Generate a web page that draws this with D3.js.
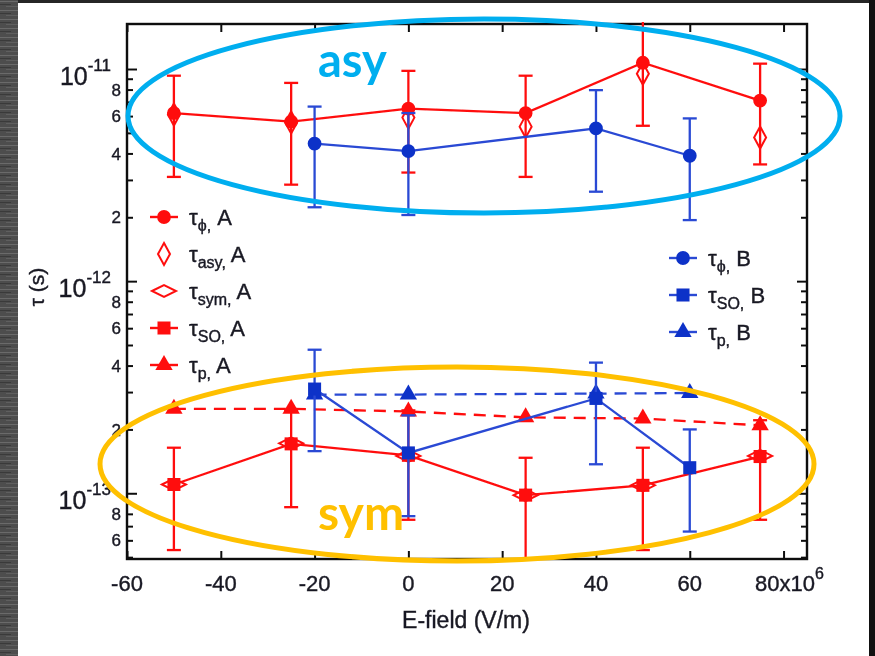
<!DOCTYPE html>
<html>
<head>
<meta charset="utf-8">
<script src="https://cdn.jsdelivr.net/npm/d3@7"></script>
<style>
  html, body { margin: 0; padding: 0; background: #222; }
  svg { display: block; }
</style>
</head>
<body>
<svg id="chart" width="875" height="656"></svg>
<script>
// ---- data: relaxation times vs electric field ----
const xA = [-50, -25, 0, 25, 50, 75];           // E-field (×10^6 V/m), sample A
const xB = [-20, 0, 40, 60];                     // E-field (×10^6 V/m), sample B

const tauPhiA    = [6.2e-12, 5.65e-12, 6.5e-12, 6.2e-12, 1.07e-11, 7.1e-12];
const tauPhiA_hi = [9.3e-12, 8.6e-12, 9.8e-12, 9.3e-12, 1.75e-11, 1.06e-11];
const tauPhiA_lo = [3.1e-12, 2.85e-12, 3.25e-12, 3.1e-12, 5.4e-12, 3.55e-12];
const tauAsyA    = [6.1e-12, 5.6e-12, 5.9e-12, 5.35e-12, 9.5e-12, 4.75e-12];
const tauSymA    = [1.1e-13, 1.72e-13, 1.5e-13, 9.8e-14, 1.09e-13, 1.5e-13];
const tauSoA     = [1.1e-13, 1.71e-13, 1.51e-13, 9.8e-14, 1.09e-13, 1.49e-13];
const tauSoA_hi  = [1.64e-13, 2.46e-13, 2.46e-13, 1.47e-13, 1.64e-13, 2.21e-13];
const tauSoA_lo  = [5.4e-14, 8.6e-14, 7.5e-14, 4.0e-14, 5.4e-14, 7.5e-14];
const tauPA      = [2.5e-13, 2.5e-13, 2.43e-13, 2.28e-13, 2.25e-13, 2.09e-13];

const tauPhiB    = [4.45e-12, 4.1e-12, 5.25e-12, 3.9e-12];
const tauPhiB_hi = [6.65e-12, 6.2e-12, 7.95e-12, 5.85e-12];
const tauPhiB_lo = [2.23e-12, 2.05e-12, 2.64e-12, 1.94e-12];
const tauSoB     = [3.1e-13, 1.55e-13, 2.8e-13, 1.32e-13];
const tauSoB_hi  = [4.75e-13, 2.33e-13, 4.13e-13, 2.0e-13];
const tauSoB_lo  = [1.58e-13, 7.8e-14, 1.37e-13, 6.6e-14];
const tauPB      = [2.92e-13, 2.92e-13, 2.95e-13, 2.97e-13];

const xTicks = [-60, -40, -20, 0, 20, 40, 60, 80];
const yDecades = [-14, -13, -12, -11];
const yLabeledMinors = [2, 4, 6, 8];

// ---- layout ----
const W = 875, H = 656;
const plot = { left: 127, right: 807, top: 24, bottom: 559 };
const RED = "#ff1010", BLUE = "#0f33c8", BLUE_LINE = "#2a4ad4";
const INK = "#1a1a24";
const FONT = "'Liberation Sans', Arial, Helvetica, sans-serif";

const svg = d3.select("#chart");
const defs = svg.append("defs");

// light softening filter for the plotted figure
defs.append("filter").attr("id", "soft").attr("x", "-5%").attr("y", "-5%").attr("width", "110%").attr("height", "110%")
  .append("feGaussianBlur").attr("stdDeviation", 0.5);

defs.append("clipPath").attr("id", "plotclip").append("rect")
  .attr("x", plot.left).attr("y", plot.top - 2)
  .attr("width", plot.right - plot.left).attr("height", plot.bottom - plot.top + 2);

// textured strip pattern for the slide background
const pat = defs.append("pattern").attr("id", "stone").attr("patternUnits", "userSpaceOnUse")
  .attr("width", 18).attr("height", 9);
pat.append("rect").attr("width", 18).attr("height", 9).attr("fill", "#4d4d4d");
pat.append("rect").attr("y", 1).attr("width", 18).attr("height", 1).attr("fill", "#6a6a6a");
pat.append("rect").attr("y", 4).attr("width", 11).attr("height", 1).attr("fill", "#3a3a3a");
pat.append("rect").attr("x", 6).attr("y", 6).attr("width", 12).attr("height", 1).attr("fill", "#5f5f5f");

svg.append("rect").attr("width", W).attr("height", H).attr("fill", "#262626");
svg.append("rect").attr("x", 0).attr("y", 0).attr("width", 18).attr("height", H).attr("fill", "url(#stone)");
svg.append("rect").attr("x", 869).attr("y", 0).attr("width", 6).attr("height", H).attr("fill", "#111");
svg.append("rect").attr("x", 18).attr("y", 3).attr("width", 851).attr("height", H - 3).attr("fill", "#fff");

// ---- scales ----
const x = d3.scaleLinear().domain([-60, 85]).range([plot.left, plot.right]);
const y = d3.scaleLog().domain([4.9e-14, 1.63e-11]).range([plot.bottom, plot.top]);

const fig = svg.append("g").attr("filter", "url(#soft)");

// ---- axes (ticks point inward, mirrored on all sides) ----
const axB = d3.axisBottom(x).tickValues(xTicks).tickSizeInner(-8).tickSizeOuter(0).tickFormat("");
const axT = d3.axisTop(x).tickValues(xTicks).tickSizeInner(-8).tickSizeOuter(0).tickFormat("");
fig.append("g").attr("transform", `translate(0,${plot.bottom})`).call(axB);
fig.append("g").attr("transform", `translate(0,${plot.top})`).call(axT);

const yTickVals = [];
yDecades.forEach(d => {
  for (let k = 1; k <= 9; k++) {
    const v = k * Math.pow(10, d);
    if (v >= y.domain()[0] && v <= y.domain()[1]) yTickVals.push({ v, k, d });
  }
});
const majors = yTickVals.filter(t => t.k === 1).map(t => t.v);
const minors = yTickVals.filter(t => t.k !== 1).map(t => t.v);
[[d3.axisLeft, plot.left], [d3.axisRight, plot.right]].forEach(([ax, px]) => {
  fig.append("g").attr("transform", `translate(${px},0)`)
    .call(ax(y).tickValues(majors).tickSizeInner(-10).tickSizeOuter(0).tickFormat(""));
  fig.append("g").attr("transform", `translate(${px},0)`)
    .call(ax(y).tickValues(minors).tickSizeInner(-6).tickSizeOuter(0).tickFormat(""));
});
fig.selectAll(".domain").remove();
fig.selectAll(".tick line").attr("stroke", "#111").attr("stroke-width", 2);

// frame
fig.append("rect")
  .attr("x", plot.left).attr("y", plot.top)
  .attr("width", plot.right - plot.left).attr("height", plot.bottom - plot.top)
  .attr("fill", "none").attr("stroke", "#111").attr("stroke-width", 2.4);

// shared text style (slightly heavy strokes, like a printed figure)
function ink(sel) {
  return sel.attr("font-family", FONT).attr("fill", INK)
    .attr("stroke", INK).attr("stroke-width", 0.4);
}

// x tick labels
const xl = ink(fig.append("g")).attr("font-size", 22).attr("text-anchor", "middle");
xTicks.forEach(t => {
  const tx = xl.append("text").attr("x", x(t) + (t === 80 ? 6 : 0)).attr("y", 591);
  if (t === 80) {
    tx.append("tspan").text("80x10");
    tx.append("tspan").attr("font-size", 16).attr("dy", -12).text("6");
  } else {
    tx.text(t);
  }
});

// y tick labels
const yl = ink(fig.append("g")).attr("text-anchor", "end");
yTickVals.forEach(t => {
  if (t.k === 1) {
    const tx = yl.append("text").attr("x", 111).attr("y", y(t.v) + 16).attr("font-size", 25);
    tx.append("tspan").text("10");
    tx.append("tspan").attr("font-size", 17).attr("dy", -14).text(String(t.d));
  } else if (yLabeledMinors.includes(t.k)) {
    yl.append("text").attr("x", 121).attr("y", y(t.v)).attr("dy", "0.36em")
      .attr("font-size", 17).text(t.k);
  }
});

// axis titles
ink(fig.append("text")).attr("x", 466).attr("y", 628).attr("text-anchor", "middle")
  .attr("font-size", 23).text("E-field (V/m)");
ink(fig.append("text")).attr("transform", "translate(44,287) rotate(-90)").attr("text-anchor", "middle")
  .attr("font-size", 21).text("τ (s)");

// ---- marker helpers ----
const sym = {
  circle: d3.symbol(d3.symbolCircle, 150),
  square: d3.symbol(d3.symbolSquare, 170),
  triangle: d3.symbol(d3.symbolTriangle, 130)
};
const diamondV = "M0,-11L6,0L0,11L-6,0Z";
const diamondH = "M-12,0L0,-6L12,0L0,6Z";

function drawMarker(g, cx, cy, kind, color) {
  const t = `translate(${cx},${cy})`;
  if (kind === "diamondV" || kind === "diamondH") {
    g.append("path").attr("d", kind === "diamondV" ? diamondV : diamondH).attr("transform", t)
      .attr("fill", "none").attr("stroke", color).attr("stroke-width", 2);
  } else {
    g.append("path").attr("d", sym[kind]()).attr("transform", t).attr("fill", color);
  }
}

const data = fig.append("g").attr("clip-path", "url(#plotclip)");

function series(xs, vals, opts) {
  const g = data.append("g");
  const pts = xs.map((xv, i) => [x(xv), y(vals[i])]);
  const c = opts.lineColor || opts.color;
  if (opts.line) {
    g.append("path").attr("d", d3.line()(pts)).attr("fill", "none")
      .attr("stroke", c).attr("stroke-width", 2.3)
      .attr("stroke-dasharray", opts.dash || null);
  }
  if (opts.hi) {
    xs.forEach((xv, i) => {
      const cx = x(xv), y1 = y(opts.hi[i]), y2 = y(opts.lo[i]);
      g.append("line").attr("x1", cx).attr("x2", cx).attr("y1", y1).attr("y2", y2)
        .attr("stroke", c).attr("stroke-width", 2.3);
      [y1, y2].forEach(yy => g.append("line").attr("x1", cx - 7).attr("x2", cx + 7)
        .attr("y1", yy).attr("y2", yy).attr("stroke", c).attr("stroke-width", 2.3));
    });
  }
  pts.forEach(([cx, cy]) => drawMarker(g, cx, cy, opts.marker, opts.color));
}

// sample A (red)
series(xA, tauPA, { color: RED, marker: "triangle", line: true, dash: "12,8" });
series(xA, tauAsyA, { color: RED, marker: "diamondV" });
series(xA, tauSymA, { color: RED, marker: "diamondH" });
series(xA, tauSoA, { color: RED, marker: "square", line: true, hi: tauSoA_hi, lo: tauSoA_lo });
series(xA, tauPhiA, { color: RED, marker: "circle", line: true, hi: tauPhiA_hi, lo: tauPhiA_lo });
// sample B (blue)
series(xB, tauPB, { color: BLUE, lineColor: BLUE_LINE, marker: "triangle", line: true, dash: "12,8" });
series(xB, tauSoB, { color: BLUE, lineColor: BLUE_LINE, marker: "square", line: true, hi: tauSoB_hi, lo: tauSoB_lo });
series(xB, tauPhiB, { color: BLUE, lineColor: BLUE_LINE, marker: "circle", line: true, hi: tauPhiB_hi, lo: tauPhiB_lo });

// ---- legends ----
function legendRow(g, lx, ly, kind, color, label, sub, lineColor, withLine) {
  if (withLine) {
    g.append("line").attr("x1", lx - 14).attr("x2", lx + 14).attr("y1", ly).attr("y2", ly)
      .attr("stroke", lineColor || color).attr("stroke-width", 2.4);
  }
  drawMarker(g, lx, ly, kind, color);
  const t = ink(g.append("text")).attr("x", lx + 25).attr("y", ly + 8).attr("font-size", 22);
  t.append("tspan").text("τ");
  t.append("tspan").attr("font-size", 16).attr("dy", 6).text(sub + ",");
  t.append("tspan").attr("dy", -6).text(" " + label);
}
const legA = fig.append("g");
legendRow(legA, 164, 217, "circle", RED, "A", "ϕ", null, true);
legendRow(legA, 164, 254, "diamondV", RED, "A", "asy", null, false);
legendRow(legA, 164, 291, "diamondH", RED, "A", "sym", null, false);
legendRow(legA, 164, 328, "square", RED, "A", "SO", null, true);
legendRow(legA, 164, 365, "triangle", RED, "A", "p", null, true);

const legB = fig.append("g");
legendRow(legB, 683, 258, "circle", BLUE, "B", "ϕ", BLUE_LINE, true);
legendRow(legB, 683, 295, "square", BLUE, "B", "SO", BLUE_LINE, true);
legendRow(legB, 683, 332, "triangle", BLUE, "B", "p", BLUE_LINE, true);

// ---- highlight ellipses and region tags ----
svg.append("ellipse").attr("cx", 484).attr("cy", 116).attr("rx", 356).attr("ry", 97)
  .attr("fill", "none").attr("stroke", "#00aeef").attr("stroke-width", 5);
svg.append("ellipse").attr("cx", 457).attr("cy", 464).attr("rx", 357).attr("ry", 97)
  .attr("fill", "none").attr("stroke", "#ffc000").attr("stroke-width", 5);
svg.append("text").attr("x", 318).attr("y", 77).attr("font-family", "Lato, 'Open Sans', sans-serif")
  .attr("font-weight", 700).attr("font-size", 47).attr("fill", "#00aeef").text("asy");
svg.append("text").attr("x", 318).attr("y", 530).attr("font-family", "Lato, 'Open Sans', sans-serif")
  .attr("font-weight", 700).attr("font-size", 48).attr("fill", "#ffc000").text("sym");
</script>
</body>
</html>
